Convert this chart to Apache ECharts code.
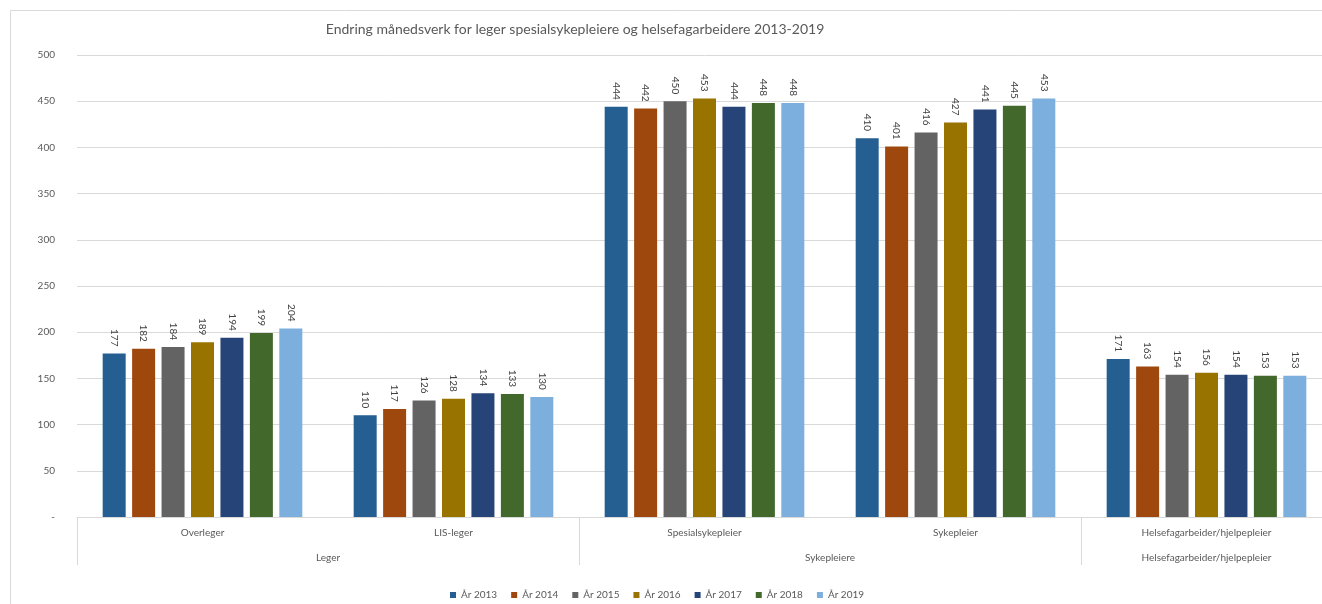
<!DOCTYPE html>
<html>
<head>
<meta charset="utf-8">
<script src="https://cdn.jsdelivr.net/npm/echarts@6/dist/echarts.min.js"></script>
<style>
html,body{margin:0;padding:0;background:#fff;overflow:hidden;}
#main{width:1345px;height:604px;}
</style>
</head>
<body>
<div id="main"></div>
<script>
const categories = ['Overleger', 'LIS-leger', 'Spesialsykepleier', 'Sykepleier', 'Helsefagarbeider/hjelpepleier'];
const groupLabels = ['', '', 'Leger', '', '', '', 'Sykepleiere', '', '', 'Helsefagarbeider/hjelpepleier', ''];
const groupSeparatorSlots = [0, 4, 8, 10];
const years = ['År 2013', 'År 2014', 'År 2015', 'År 2016', 'År 2017', 'År 2018', 'År 2019'];
const y2013 = [177, 110, 444, 410, 171];
const y2014 = [182, 117, 442, 401, 163];
const y2015 = [184, 126, 450, 416, 154];
const y2016 = [189, 128, 453, 427, 156];
const y2017 = [194, 134, 444, 441, 154];
const y2018 = [199, 133, 448, 445, 153];
const y2019 = [204, 130, 448, 453, 153];
const seriesValues = [y2013, y2014, y2015, y2016, y2017, y2018, y2019];
const colors = ['#255E91', '#9E480E', '#636363', '#997300', '#264478', '#43682B', '#7CAFDD'];

const FONT = 'Lato, "Open Sans", sans-serif';
const chart = echarts.init(document.getElementById('main'), null, {renderer: 'canvas'});

const series = years.map((name, i) => ({
  name: name,
  type: 'bar',
  xAxisIndex: 0,
  data: seriesValues[i],
  barWidth: 23,
  barGap: '28%',
  itemStyle: {color: colors[i]},
  label: {
    show: true,
    position: 'top',
    rotate: -90,
    align: 'right',
    verticalAlign: 'middle',
    distance: 7,
    fontFamily: FONT,
    fontSize: 10,
    color: '#404040'
  }
}));

chart.setOption({
  animation: false,
  color: colors,
  textStyle: {fontFamily: FONT},
  title: {
    text: 'Endring månedsverk for leger spesialsykepleiere og helsefagarbeidere 2013-2019',
    left: 570, top: 17, textAlign: 'center',
    textStyle: {fontFamily: FONT, fontSize: 14, fontWeight: 'normal', color: '#595959'}
  },
  legend: {
    top: 585, left: 445,
    itemWidth: 6, itemHeight: 6, itemGap: 14,
    icon: 'rect',
    textStyle: {fontFamily: FONT, fontSize: 10, color: '#595959'},
    data: years
  },
  grid: {left: 77, top: 55, width: 1255, height: 462, containLabel: false},
  xAxis: [
    {
      type: 'category',
      data: categories,
      position: 'bottom',
      axisLine: {show: true, lineStyle: {color: '#d9d9d9'}},
      axisTick: {show: false},
      axisLabel: {interval: 0, margin: 11, fontFamily: FONT, fontSize: 10, color: '#595959'}
    },
    {
      type: 'category',
      data: groupLabels,
      position: 'bottom',
      boundaryGap: false,
      axisLine: {show: false},
      axisTick: {
        show: true, length: 48,
        interval: (idx) => groupSeparatorSlots.includes(idx),
        lineStyle: {color: '#d9d9d9'}
      },
      axisLabel: {interval: 0, margin: 36, fontFamily: FONT, fontSize: 10, color: '#595959'}
    }
  ],
  yAxis: {
    type: 'value', min: 0, max: 500, interval: 50,
    axisLine: {show: false}, axisTick: {show: false},
    splitLine: {lineStyle: {color: '#d9d9d9'}},
    axisLabel: {
      margin: 22, fontFamily: FONT, fontSize: 10, color: '#595959',
      formatter: v => v === 0 ? '-' : String(v)
    }
  },
  graphic: [
    {type: 'rect', shape: {x: 10.5, y: 10.5, width: 1400, height: 600}, style: {fill: null, stroke: '#d9d9d9', lineWidth: 1}, silent: true, z: -10}
  ],
  series: series
});
</script>
</body>
</html>
